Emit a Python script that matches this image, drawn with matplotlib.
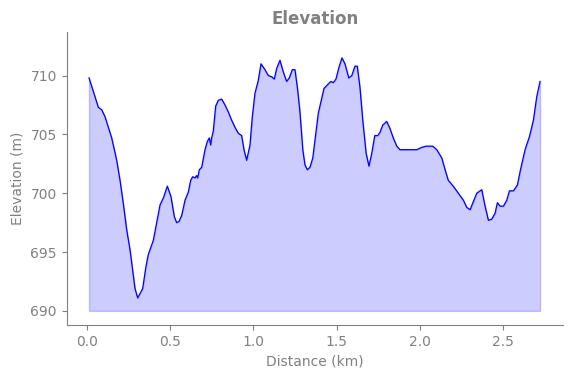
import matplotlib.pyplot as plt

# distance along the route (km) and elevation (m)
distance_km = [
    0.014, 0.070, 0.090, 0.110, 0.150, 0.180, 0.200, 0.220, 0.240, 0.260,
    0.290, 0.306, 0.336, 0.356, 0.370, 0.400, 0.440, 0.460, 0.484, 0.506,
    0.526, 0.540, 0.554, 0.570, 0.590, 0.610, 0.624, 0.636, 0.650, 0.660,
    0.666, 0.676, 0.690, 0.710, 0.724, 0.736, 0.744, 0.750, 0.760, 0.774,
    0.790, 0.810, 0.830, 0.850, 0.870, 0.890, 0.910, 0.930, 0.944, 0.960,
    0.980, 0.994, 1.010, 1.030, 1.046, 1.070, 1.090, 1.110, 1.126, 1.140,
    1.160, 1.180, 1.200, 1.216, 1.234, 1.250, 1.266, 1.280, 1.297, 1.310,
    1.324, 1.340, 1.357, 1.370, 1.390, 1.411, 1.424, 1.444, 1.465, 1.480,
    1.496, 1.514, 1.532, 1.550, 1.573, 1.591, 1.610, 1.624, 1.640, 1.657,
    1.677, 1.694, 1.711, 1.729, 1.747, 1.761, 1.777, 1.801, 1.820, 1.840,
    1.861, 1.880, 1.981, 2.011, 2.037, 2.077, 2.101, 2.131, 2.151, 2.170,
    2.200, 2.241, 2.261, 2.281, 2.301, 2.321, 2.341, 2.371, 2.391, 2.411,
    2.431, 2.451, 2.465, 2.481, 2.501, 2.521, 2.537, 2.561, 2.585, 2.605,
    2.631, 2.657, 2.681, 2.701, 2.721,
]
elevation_m = [
    709.8, 707.3, 707.1, 706.5, 704.7, 702.8, 701.1, 699.1, 696.9, 695.2,
    691.9, 691.1, 691.9, 693.8, 694.8, 696.0, 699.0, 699.6, 700.6, 699.7,
    698.0, 697.5, 697.6, 698.1, 699.4, 700.1, 701.1, 701.4, 701.3, 701.5,
    701.3, 702.0, 702.2, 703.7, 704.4, 704.7, 704.1, 704.7, 705.3, 707.4,
    707.9, 708.0, 707.5, 706.9, 706.2, 705.6, 705.1, 704.9, 703.7, 702.8,
    704.1, 706.5, 708.5, 709.6, 711.0, 710.5, 710.0, 709.9, 709.7, 710.6,
    711.3, 710.3, 709.5, 709.8, 710.5, 710.5, 708.8, 706.9, 703.7, 702.4,
    702.0, 702.2, 703.0, 704.5, 706.8, 708.1, 708.9, 709.2, 709.5, 709.4,
    709.7, 710.7, 711.5, 711.0, 709.8, 710.0, 710.8, 710.8, 709.0, 706.2,
    703.4, 702.3, 703.4, 704.9, 704.9, 705.2, 705.8, 706.1, 705.5, 704.7,
    704.0, 703.7, 703.7, 703.9, 704.0, 704.0, 703.7, 703.0, 702.0, 701.1,
    700.6, 699.8, 699.4, 698.8, 698.6, 699.3, 700.0, 700.3, 698.9, 697.7,
    697.8, 698.3, 699.2, 698.9, 698.9, 699.4, 700.2, 700.2, 700.7, 702.1,
    703.7, 704.8, 706.2, 708.2, 709.5,
]
base_elevation = 690
y_ticks = [690, 695, 700, 705, 710]
x_ticks = [0.0, 0.5, 1.0, 1.5, 2.0, 2.5]

text_color = 'gray'

fig = plt.figure(figsize=(5.71, 3.78), dpi=100)
ax = fig.add_axes([0.1168, 0.1402, 0.8687, 0.7751])

ax.fill_between(distance_km, elevation_m, base_elevation, color='blue', alpha=0.2)
ax.plot(distance_km, elevation_m, color='blue', linewidth=0.9)

ax.set_xlim(-0.12, 2.857)
ax.set_ylim(688.8, 713.7)
ax.set_xticks(x_ticks)
ax.set_yticks(y_ticks)

ax.set_title('Elevation', color=text_color, fontweight='bold', fontsize=12)
ax.set_xlabel('Distance (km)', color=text_color)
ax.set_ylabel('Elevation (m)', color=text_color)

for side in ['top', 'right']:
    ax.spines[side].set_visible(False)
for side in ['left', 'bottom']:
    ax.spines[side].set_color(text_color)
ax.tick_params(colors=text_color)

plt.savefig('out.png', dpi=100)
plt.close()
